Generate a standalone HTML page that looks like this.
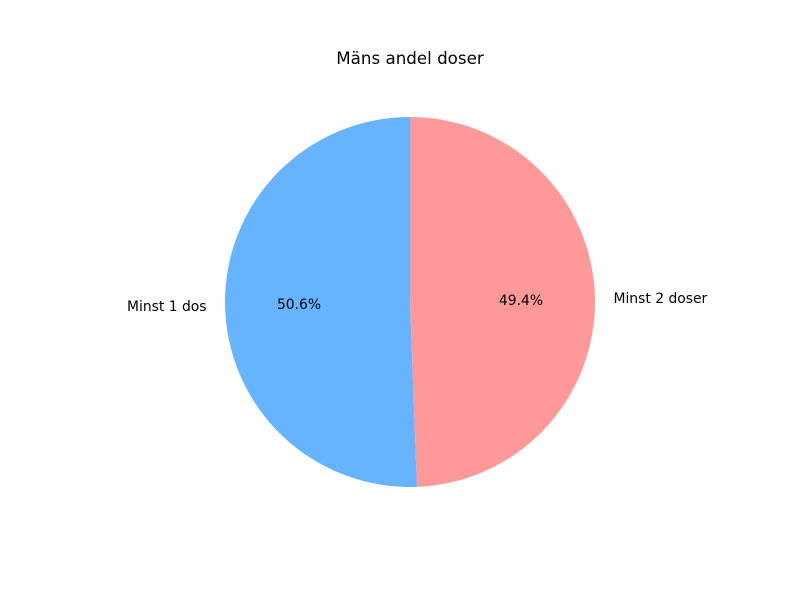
<!DOCTYPE html>
<html>
<head>
<meta charset="utf-8">
<style>
  html, body { margin: 0; padding: 0; background: #fff; }
  svg { display: block; }
  text { font-family: "DejaVu Sans", "Liberation Sans", sans-serif; fill: #000; }
</style>
</head>
<body>
<svg id="chart" width="800" height="600" viewBox="0 0 800 600">
  <rect width="800" height="600" fill="#fff"/>
  <text x="410" y="64" text-anchor="middle" font-size="16.7">Mäns andel doser</text>
  <g id="slices"></g>
</svg>
<script>
const categories = ["Minst 1 dos", "Minst 2 doser"];
const values = [50.6, 49.4];
const colors = ["#66b3ff", "#ff9999"];

const cx = 410, cy = 302, r = 185;
const svgNS = "http://www.w3.org/2000/svg";
const g = document.getElementById("slices");
const total = values.reduce((a, b) => a + b, 0);
function pt(angDeg, rad) {
  const a = angDeg * Math.PI / 180;
  return [cx + rad * Math.cos(a), cy - rad * Math.sin(a)];
}
let start = 90;
values.forEach((v, i) => {
  const sweep = v / total * 360;
  const end = start + sweep;
  const [x1, y1] = pt(start, r);
  const [x2, y2] = pt(end, r);
  const large = sweep > 180 ? 1 : 0;
  const path = document.createElementNS(svgNS, "path");
  path.setAttribute("d", `M${cx},${cy} L${x1},${y1} A${r},${r} 0 ${large} 0 ${x2},${y2} Z`);
  path.setAttribute("fill", colors[i]);
  
  
  g.appendChild(path);

  const mid = start + sweep / 2;
  const [lx, ly] = pt(mid, r * 1.1);
  const label = document.createElementNS(svgNS, "text");
  label.setAttribute("x", lx);
  label.setAttribute("y", ly + 5);
  label.setAttribute("font-size", "13.9");
  label.setAttribute("text-anchor", Math.cos(mid * Math.PI / 180) < 0 ? "end" : "start");
  label.textContent = categories[i];
  
  
  g.appendChild(label);

  const [px, py] = pt(mid, r * 0.6);
  const pct = document.createElementNS(svgNS, "text");
  pct.setAttribute("x", px);
  pct.setAttribute("y", py + 5);
  pct.setAttribute("font-size", "13.9");
  pct.setAttribute("text-anchor", "middle");
  pct.textContent = (v / total * 100).toFixed(1) + "%";
  
  
  g.appendChild(pct);

  start = end;
});
</script>
</body>
</html>
